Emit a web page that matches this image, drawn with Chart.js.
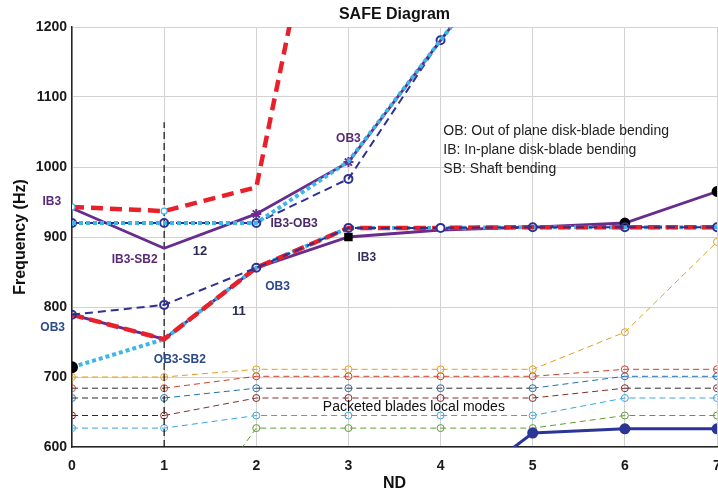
<!DOCTYPE html>
<html lang="en">
<head>
<meta charset="UTF-8">
<title>SAFE Diagram</title>
<script src="https://cdn.jsdelivr.net/npm/chart.js"></script>
<style>
  html, body { margin: 0; padding: 0; background: #fff; }
</style>
</head>
<body>
<canvas id="safe" width="718" height="492"></canvas>
<script>
// ---------- data ----------
const nd = [0, 1, 2, 3, 4, 5, 6, 7];
const ndTicks = [0, 1, 2, 3, 4, 5, 6, 7];
const freqTicks = [600, 700, 800, 900, 1000, 1100, 1200];

// family "12" (upper)
const upperRed    = [943, 937, 971, 1610, null, null, null, null];
const upperPurple = [941, 884, 933, 1007, 1181, 1350, null, null];
const upperCyan   = [920, 920, 920, 1008, 1181, 1350, null, null];
const upperNavy   = [920, 920, 920, 983, 1181, 1350, null, null];

// family "11" (lower)
const lowerPurple = [789, 754, 856, 900, 910, 914, 920, 965];
const lowerRed    = [789, 754, 856, 913, 913, 914, 914, 914];
const lowerCyan   = [714, 754, 856, 913, 913, 914, 914, 914];
const lowerNavy   = [789, 803, 856, 913, 913, 914, 914, 914];

// packeted blades local modes
const localOrange = [700, 700, 711, 711, 711, 711, 764, 893];
const localRed    = [684, 684, 701, 701, 701, 701, 711, 711];
const localBlue   = [670, 670, 684, 684, 684, 684, 701, 701];
const localMaroon = [645, 645, 670, 670, 670, 670, 684, 684];
const localSky    = [627, 627, 645, 645, 645, 645, 670, 670];
const localGreen  = [null, 447, 627, 627, 627, 627, 645, 645];
const shaftNavy   = [null, null, null, null, 520, 620, 626, 626];

// vertical marker at ND 1
const markerNd = [1, 1];
const markerFreq = [600, 1064];

// ---------- text ----------
const FONT = '"Liberation Sans", Arial, sans-serif';
const notes = [
  { text: 'IB3',     x: -0.22, y: 951,  color: '#5a2a78' },
  { text: 'IB3-SB2', x: 0.68,  y: 867,  color: '#5a2a78' },
  { text: '12',      x: 1.39,  y: 879,  color: '#2a2a55', size: 13 },
  { text: 'IB3-OB3', x: 2.41,  y: 919,  color: '#4a2a6a' },
  { text: 'OB3',     x: 3.0,   y: 1041, color: '#5a2a78' },
  { text: 'OB3',     x: 2.23,  y: 829,  color: '#2a4a8a' },
  { text: '11',      x: 1.81,  y: 793,  color: '#2a2a55', size: 13 },
  { text: 'OB3',     x: -0.21, y: 770,  color: '#2a4a8a' },
  { text: 'OB3-SB2', x: 1.17,  y: 725,  color: '#2a4a8a' },
  { text: 'IB3',     x: 3.2,   y: 871,  color: '#3a3060' },
  { text: 'Packeted blades local modes', x: 3.71, y: 657, color: '#111', weight: 'normal', size: 14 },
  { text: 'OB: Out of plane disk-blade bending', x: 4.03, y: 1051, color: '#222', weight: 'normal', size: 14, align: 'left' },
  { text: 'IB: In-plane disk-blade bending',     x: 4.03, y: 1024, color: '#222', weight: 'normal', size: 14, align: 'left' },
  { text: 'SB: Shaft bending',                   x: 4.03, y: 997,  color: '#222', weight: 'normal', size: 14, align: 'left' }
];

const pts = arr => nd.map((x, i) => ({ x: x, y: arr[i] }));

const RED = '#e8202a', PURPLE = '#682c8c', CYAN = '#3cb6e8', NAVY = '#2f3192';

// thin dashed local-mode line; some flat runs look black in the figure
function local(arr, color, darkSegs) {
  return {
    data: pts(arr), borderColor: color, borderWidth: 1, borderDash: [6, 4],
    pointStyle: 'circle', pointRadius: 3.5, pointBorderWidth: 1,
    pointBorderColor: color, pointBackgroundColor: 'rgba(0,0,0,0)',
    segment: { borderColor: c => darkSegs.includes(c.p0DataIndex) ? '#2a2a2a' : color },
    order: 20
  };
}

const datasets = [
  // upper family
  { data: pts(upperRed), borderColor: RED, borderWidth: 4.5, borderDash: [12, 7],
    pointRadius: [3, 3, 0, 0, 0, 0, 0, 0], pointBorderColor: CYAN, pointBorderWidth: 1.2,
    pointBackgroundColor: '#fff', order: 1 },
  { data: pts(upperCyan), borderColor: CYAN, borderWidth: 4, borderDash: [4, 3],
    pointRadius: 0, order: 2 },
  { data: pts(upperNavy), borderColor: NAVY, borderWidth: 2, borderDash: [8, 5],
    pointRadius: [4, 4, 4, 4, 4, 0, 0, 0], pointBorderColor: NAVY, pointBorderWidth: 2,
    pointBackgroundColor: 'rgba(0,0,0,0)', order: 3 },
  { data: pts(upperPurple), borderColor: PURPLE, borderWidth: 2.8,
    pointStyle: 'star', pointRadius: [0, 0, 5, 5, 0, 0, 0, 0], pointBorderColor: PURPLE,
    pointBorderWidth: 2, order: 4 },

  // lower family
  { data: pts(lowerRed), borderColor: RED, borderWidth: 4.5, borderDash: [12, 6],
    pointRadius: 0, order: 5 },
  { data: pts(lowerCyan), borderColor: CYAN, borderWidth: 4, borderDash: [4, 3],
    pointRadius: [4, 0, 0, 0, 0, 0, 0, 0], pointBackgroundColor: '#000', pointBorderColor: '#000',
    order: 6 },
  { data: pts(lowerNavy), borderColor: NAVY, borderWidth: 2, borderDash: [8, 5],
    pointRadius: 4, pointBorderColor: NAVY, pointBorderWidth: 2,
    pointBackgroundColor: ['rgba(0,0,0,0)', 'rgba(0,0,0,0)', 'rgba(0,0,0,0)', 'rgba(0,0,0,0)', '#fff', 'rgba(0,0,0,0)', 'rgba(0,0,0,0)', 'rgba(0,0,0,0)'],
    order: 4.5 },
  { data: pts(lowerPurple), borderColor: PURPLE, borderWidth: 2.8,
    pointStyle: ['circle', 'circle', 'circle', 'rect', 'circle', 'circle', 'circle', 'circle'],
    pointRadius: [0, 0, 0, 4, 0, 0, 4, 4], pointBackgroundColor: '#000', pointBorderColor: '#000',
    order: 7 },

  // shaft mode at the bottom
  { data: pts(shaftNavy), borderColor: '#2b3595', borderWidth: 3,
    pointRadius: [0, 0, 0, 0, 0, 4, 4, 4], pointBackgroundColor: '#2b3595', pointBorderColor: '#2b3595',
    order: 8 },

  // packeted blades local modes
  local(localOrange, '#e0a020', []),
  local(localRed,    '#c8402a', [0]),
  local(localBlue,   '#1f6fb5', [0, 2, 3, 4]),
  local(localMaroon, '#8a2a2a', [0, 6]),
  local(localSky,    '#3aa6de', []),
  local(localGreen,  '#5f9e2e', []),

  // dashed marker at ND 1
  { data: markerNd.map((x, i) => ({ x: x, y: markerFreq[i] })), borderColor: '#111',
    borderWidth: 1.2, borderDash: [7, 4], pointRadius: 0, order: 9 }
];

const notePlugin = {
  id: 'notes',
  afterDatasetsDraw(chart) {
    const { ctx, scales: { x, y } } = chart;
    ctx.save();
    notes.forEach(n => {
      ctx.font = (n.weight || 'bold') + ' ' + (n.size || 12) + 'px ' + FONT;
      ctx.fillStyle = n.color;
      ctx.textAlign = n.align || 'center';
      ctx.textBaseline = 'middle';
      ctx.fillText(n.text, x.getPixelForValue(n.x), y.getPixelForValue(n.y));
    });
    ctx.restore();
  }
};

new Chart(document.getElementById('safe'), {
  type: 'line',
  data: { datasets: datasets },
  plugins: [notePlugin],
  options: {
    responsive: false,
    animation: false,
    devicePixelRatio: 1,
    layout: { autoPadding: false, padding: { top: 0, right: 1, bottom: 0, left: 0 } },
    plugins: {
      legend: { display: false },
      tooltip: { enabled: false },
      title: {
        display: true, text: 'SAFE Diagram', fullSize: false, color: '#111',
        font: { family: FONT, size: 16, weight: 'bold' },
        padding: { top: 5, bottom: 2.8 }
      }
    },
    scales: {
      x: {
        type: 'linear', min: 0, max: 7,
        afterBuildTicks: s => { s.ticks = ndTicks.map(v => ({ value: v })); },
        afterFit: s => { s.height = 45; s.paddingLeft = 0; s.paddingRight = 0; },
        ticks: { color: '#1a1a1a', padding: 0, font: { family: FONT, size: 14, weight: 'bold' } },
        grid: { color: '#d2d2d2', drawTicks: true, tickLength: 11, tickColor: 'rgba(0,0,0,0)' },
        border: { color: '#262626', width: 1.5 },
        title: { display: true, text: 'ND', color: '#111', padding: 0,
          font: { family: FONT, size: 16, weight: 'bold', lineHeight: 1 } }
      },
      y: {
        min: 600, max: 1200,
        afterBuildTicks: s => { s.ticks = freqTicks.map(v => ({ value: v })); },
        afterFit: s => { s.width = 72; s.paddingTop = 0; s.paddingBottom = 0; },
        ticks: { color: '#1a1a1a', padding: 5, callback: v => String(v),
          font: { family: FONT, size: 14, weight: 'bold' } },
        grid: { color: '#d2d2d2', drawTicks: false },
        border: { color: '#262626', width: 1.5 },
        title: { display: true, text: 'Frequency (Hz)', color: '#111', padding: { top: 13, bottom: 0 },
          font: { family: FONT, size: 16, weight: 'bold', lineHeight: 1 } }
      }
    }
  }
});
</script>
</body>
</html>
